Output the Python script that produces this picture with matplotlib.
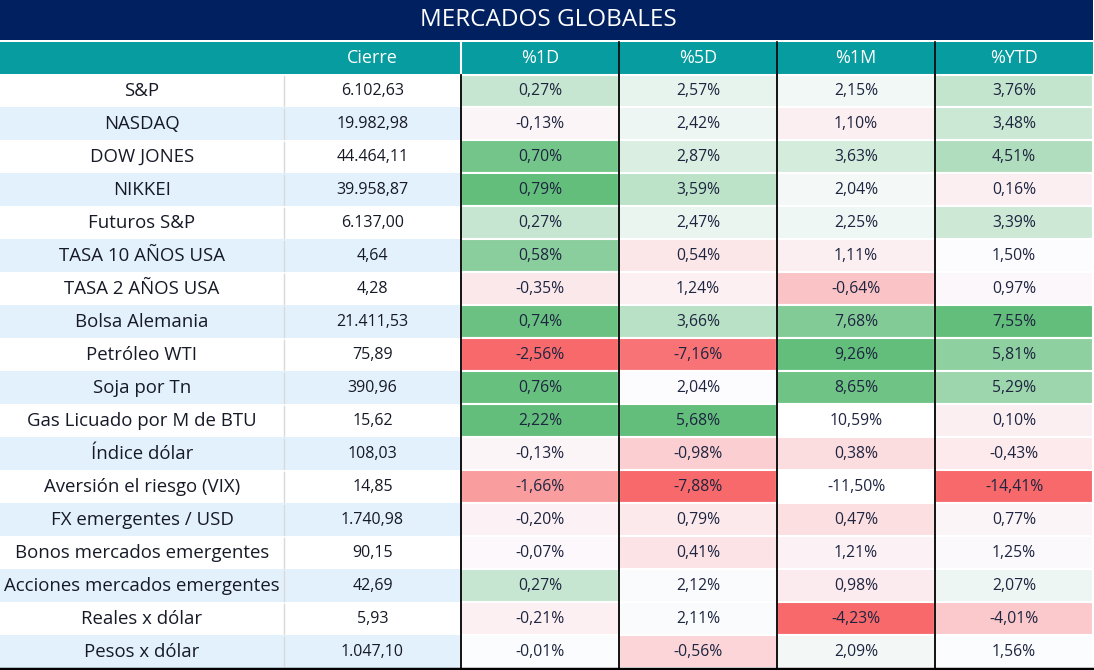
import numpy as np
import matplotlib
matplotlib.use("Agg")
import matplotlib.pyplot as plt
from matplotlib.patches import Rectangle
from matplotlib.colors import LinearSegmentedColormap, TwoSlopeNorm

plt.rcParams['font.family'] = ['Open Sans', 'DejaVu Sans']

# datos de la tabla
titulo = "MERCADOS GLOBALES"
columnas = ["Cierre", "%1D", "%5D", "%1M", "%YTD"]
activos = ["S&P", "NASDAQ", "DOW JONES", "NIKKEI", "Futuros S&P", "TASA 10 AÑOS USA",
           "TASA 2 AÑOS USA", "Bolsa Alemania", "Petróleo WTI", "Soja por Tn",
           "Gas Licuado por M de BTU", "Índice dólar", "Aversión el riesgo (VIX)",
           "FX emergentes / USD", "Bonos mercados emergentes",
           "Acciones mercados emergentes", "Reales x dólar", "Pesos x dólar"]
cierre = [6102.63, 19982.98, 44464.11, 39958.87, 6137.00, 4.64, 4.28, 21411.53, 75.89,
          390.96, 15.62, 108.03, 14.85, 1740.98, 90.15, 42.69, 5.93, 1047.10]
var_1d = [0.27, -0.13, 0.70, 0.79, 0.27, 0.58, -0.35, 0.74, -2.56, 0.76, 2.22, -0.13,
          -1.66, -0.20, -0.07, 0.27, -0.21, -0.01]
var_5d = [2.57, 2.42, 2.87, 3.59, 2.47, 0.54, 1.24, 3.66, -7.16, 2.04, 5.68, -0.98,
          -7.88, 0.79, 0.41, 2.12, 2.11, -0.56]
var_1m = [2.15, 1.10, 3.63, 2.04, 2.25, 1.11, -0.64, 7.68, 9.26, 8.65, 10.59, 0.38,
          -11.50, 0.47, 1.21, 0.98, -4.23, 2.09]
var_ytd = [3.76, 3.48, 4.51, 0.16, 3.39, 1.50, 0.97, 7.55, 5.81, 5.29, 0.10, -0.43,
           -14.41, 0.77, 1.25, 2.07, -4.01, 1.56]

# celdas que en la planilla quedaron fuera de la escala de color
fuera_escala = {("Gas Licuado por M de BTU", "%1D"), ("Gas Licuado por M de BTU", "%1M"),
                ("Aversión el riesgo (VIX)", "%1M")}
# de esas, las que quedaron sin color
sin_color = {("Gas Licuado por M de BTU", "%1M"), ("Aversión el riesgo (VIX)", "%1M")}


def fmt_num(v):
    s = f"{v:,.2f}"
    return s.replace(",", "X").replace(".", ",").replace("X", ".")


def fmt_pct(v):
    return f"{v:.2f}".replace(".", ",") + "%"


def main():
    W, H = 1094, 670
    fig = plt.figure(figsize=(W / 100, H / 100), dpi=100)
    ax = fig.add_axes([0, 0, 1, 1])
    ax.set_xlim(0, W)
    ax.set_ylim(H, 0)
    ax.axis("off")

    navy = "#002060"
    teal = "#069CA0"
    azul_claro = "#E3F1FC"
    texto = "#161A26"
    texto_pct = "#1E2540"
    cmap = LinearSegmentedColormap.from_list("rwg", ["#F8696B", "#FCFCFF", "#63BE7B"])

    # bordes de columnas (pixeles)
    x_cols = [0, 284, 461, 619, 777, 935, 1093]
    y_head = (42, 74)
    y0 = 74.5
    row_h = (668 - y0) / len(activos)

    # titulo
    ax.add_patch(Rectangle((0, 0), 1093, 40, color=navy, lw=0))
    ax.text(548, 20, titulo, color="white", fontsize=17.5, ha="center", va="center")

    # encabezado
    ax.add_patch(Rectangle((0, y_head[0]), 1093, y_head[1] - y_head[0], color=teal, lw=0))
    centros = [(x_cols[i] + x_cols[i + 1]) / 2 for i in range(len(x_cols) - 1)]
    for i, c in enumerate(columnas):
        ax.text(centros[i + 1], (y_head[0] + y_head[1]) / 2, c, color="white",
                fontsize=13, ha="center", va="center")
    ax.plot([461, 461], y_head, color="white", lw=1.5)
    for x in x_cols[3:6]:
        ax.plot([x, x], y_head, color="black", lw=1.2)

    # filas: nombre y cierre
    for r, (nombre, val) in enumerate(zip(activos, cierre)):
        y = y0 + r * row_h
        fondo = "white" if r % 2 == 0 else azul_claro
        ax.add_patch(Rectangle((0, y), 461, row_h, color=fondo, lw=0))
        ax.plot([284, 284], [y + 1.5, y + row_h - 1.5], color="#D9D9D9", lw=1)
        yc = y + row_h / 2
        ax.text(centros[0], yc, nombre, color=texto, fontsize=13.4, ha="center", va="center")
        ax.text(centros[1], yc, fmt_num(val), color=texto, fontsize=11.5,
                ha="center", va="center")

    # columnas de variacion con escala de color por columna
    series = {"%1D": var_1d, "%5D": var_5d, "%1M": var_1m, "%YTD": var_ytd}
    for j, (col, vals) in enumerate(series.items()):
        vals = np.array(vals)
        incl = np.array([(a, col) not in fuera_escala for a in activos])
        v_in = vals[incl]
        norm = TwoSlopeNorm(vcenter=np.median(v_in), vmin=v_in.min(), vmax=v_in.max())
        xl, xr = x_cols[j + 2], x_cols[j + 3]
        for r, v in enumerate(vals):
            y = y0 + r * row_h
            if (activos[r], col) in sin_color:
                color = "white"
            else:
                color = cmap(np.clip(norm(v), 0, 1))
            ax.add_patch(Rectangle((xl, y), xr - xl, row_h, facecolor=color,
                                   edgecolor="white", lw=1.5))
            ax.text((xl + xr) / 2, y + row_h / 2, fmt_pct(v), color=texto_pct,
                    fontsize=11.3, ha="center", va="center")

    # lineas verticales y borde inferior
    for x in x_cols[2:6]:
        ax.plot([x, x], [y0, 668], color="black", lw=1.3)
    ax.plot([0, W], [669, 669], color="black", lw=2.5)

    fig.savefig("out.png", dpi=100)


if __name__ == '__main__':
    main()
